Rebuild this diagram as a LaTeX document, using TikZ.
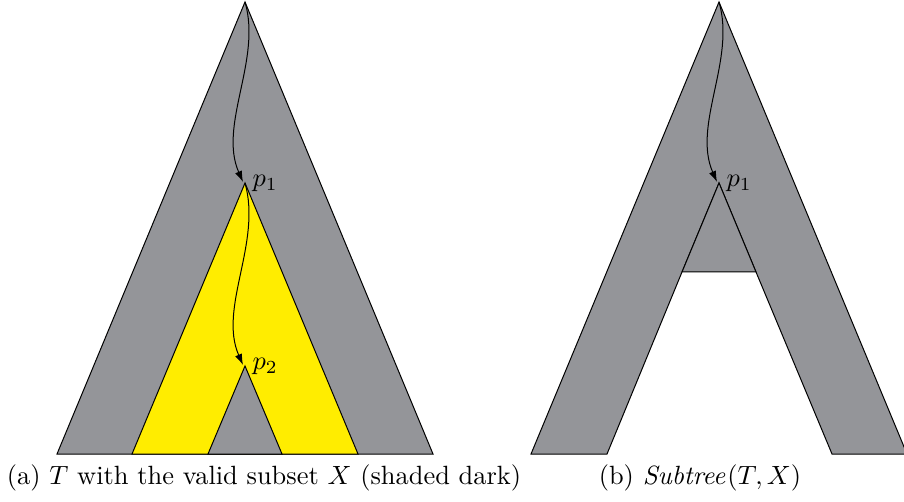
\documentclass[tikz,border=0pt]{standalone}
\usetikzlibrary{arrows.meta}
\definecolor{treegray}{RGB}{148,149,153}
\definecolor{subyellow}{RGB}{255,237,0}
\begin{document}
\begin{tikzpicture}[x=1pt,y=-1pt,
  outline/.style={draw=black,line width=1pt,line join=miter},
  path arrow/.style={draw=black,line width=1pt,-{Latex[length=11pt,width=7.5pt]}},
  plabel/.style={anchor=west,inner sep=0pt,scale=2.64},
  caption/.style={inner sep=0pt,scale=2.64}]
\useasboundingbox (0,0) rectangle (904,502);
\clip (0,0) rectangle (904,502);

% ---- (a) the tree T ----
\coordinate (rootA) at (245,2);
\coordinate (baseAL) at (57,454);
\coordinate (baseAR) at (433,454);
\coordinate (p1A) at (245,183);
\coordinate (xAL) at (132,454);
\coordinate (xAR) at (358,454);
\coordinate (p2A) at (245,366);
\coordinate (yAL) at (208,454);
\coordinate (yAR) at (282,454);

\filldraw[fill=treegray,outline] (rootA) -- (baseAL) -- (baseAR) -- cycle;
\filldraw[fill=subyellow,outline] (p1A) -- (xAL) -- (xAR) -- cycle;
\filldraw[fill=treegray,outline] (p2A) -- (yAL) -- (yAR) -- cycle;

\draw[path arrow] (rootA) .. controls (262,60) and (218,125) .. (243,182);
\draw[path arrow] (p1A) .. controls (262,243) and (218,308) .. (243,365);

\node[plabel] (lp1A) at (252,183) {$p_1$};
\node[plabel] (lp2A) at (252,366) {$p_2$};

\node[caption] (capA) at (264,478) {(a) $T$ with the valid subset $X$ (shaded dark)};

% ---- (b) Subtree(T,X) ----
\coordinate (rootB) at (719,2);
\coordinate (baseBL) at (531,454);
\coordinate (baseBR) at (907,454);
\coordinate (p1B) at (719,183);
\coordinate (cutL) at (682,272);
\coordinate (cutR) at (756,272);
\coordinate (holeL) at (607,454);
\coordinate (holeR) at (832,454);

\filldraw[fill=treegray,outline]
  (rootB) -- (baseBR) -- (holeR) -- (cutR) -- (p1B) -- (cutL) -- (holeL) -- (baseBL) -- cycle;
\fill[treegray] (p1B) -- (cutL) -- (cutR) -- cycle;
\draw[outline] (cutL) -- (p1B) -- (cutR) -- cycle;

\draw[path arrow] (rootB) .. controls (736,60) and (692,125) .. (717,182);
\node[plabel] (lp1B) at (726,183) {$p_1$};

\node[caption] (capB) at (700,478) {(b) $\mathit{Subtree}(T,X)$};
\end{tikzpicture}
\end{document}
